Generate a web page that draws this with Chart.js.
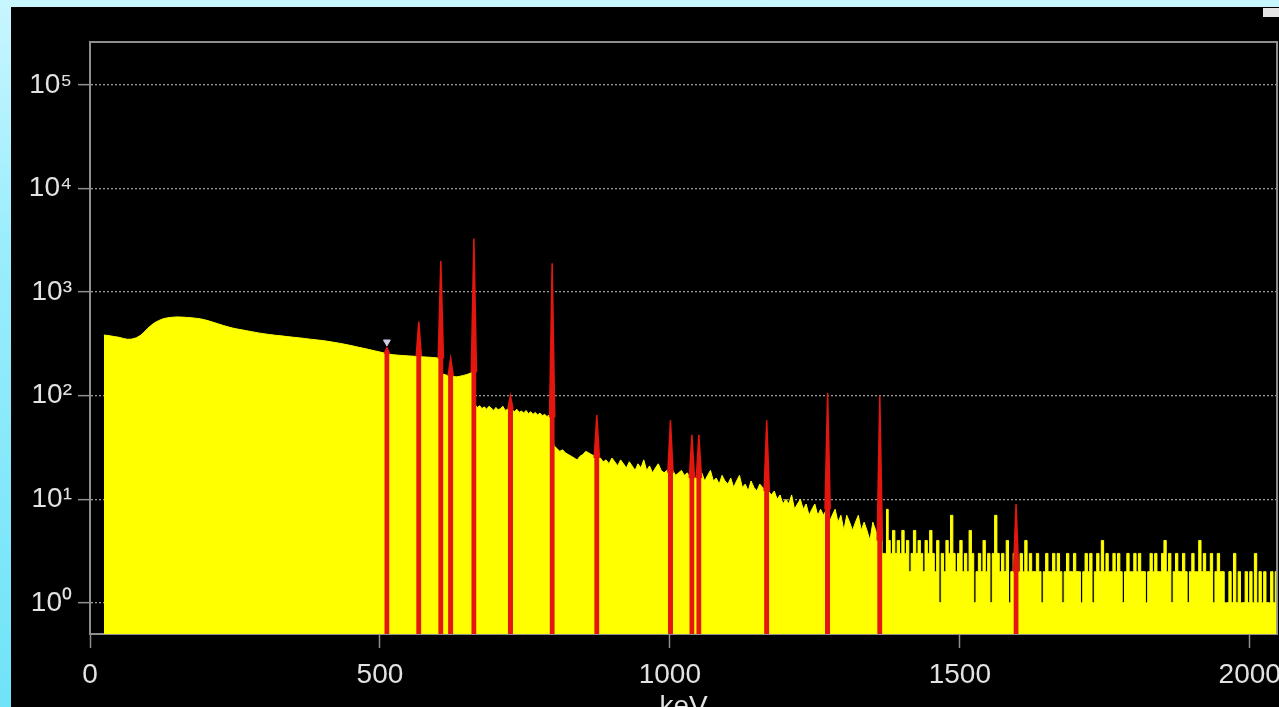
<!DOCTYPE html>
<html><head><meta charset="utf-8">
<script src="https://cdn.jsdelivr.net/npm/chart.js@4"></script>
<style>
html,body{margin:0;padding:0;width:1279px;height:707px;overflow:hidden;}
body{background:linear-gradient(180deg,#c8f6ff 0%,#9aedfc 35%,#70e3f8 100%);position:relative;}
#panel{position:absolute;left:11px;top:7px;width:1268px;height:700px;background:#000;overflow:hidden;}
#c{position:absolute;left:0;top:0;}
#tag{position:absolute;left:1252px;top:1px;width:16px;height:9px;background:#e4e4e4;}
</style></head>
<body><div id="panel"><canvas id="c" width="1300" height="717"></canvas><div id="tag"></div></div>
<script>
// ---- data (energy keV, counts) ----
const lowCounts = [[24,385],[28,383],[35,378],[42,372],[50,366],[58,356],[65,350],[72,352],[80,362],[88,385],[95,420],[102,460],[110,500],[118,530],[126,552],[134,565],[142,572],[150,576],[158,574],[166,570],[174,566],[182,560],[190,552],[198,540],[206,525],[214,508],[222,492],[230,476],[238,462],[246,450],[254,440],[262,432],[270,424],[280,414],[290,404],[300,396],[310,389],[320,383],[330,378],[340,372],[350,367],[360,362],[370,357],[380,351],[390,346],[400,341],[410,335],[420,328],[430,321],[440,313],[450,305],[460,296],[470,288],[480,280],[490,272],[500,264],[508,258],[516,252],[524,248],[532,246],[540,244],[550,242],[560,240],[570,238],[580,236],[590,234],[598,232],[604,230],[608,162],[614,158],[620,156],[626,153],[632,152],[638,154],[644,157],[650,160],[656,165],[660,172]];
const midCounts = [[664,82],[668,77],[672,80],[676,75],[680,78],[684,74],[688,79],[692,76],[696,72],[700,77],[704,73],[708,75],[712,79],[716,72],[720,74],[724,71],[728,73],[732,70],[736,74],[740,69],[744,71],[748,68],[752,72],[756,67],[760,70],[764,66],[768,69],[772,65],[776,68],[780,64],[784,66],[788,63],[792,65],[795,62],[800,33],[805,31],[810,29],[815,30],[820,28],[825,27],[830,26],[835,25],[840,24],[845,26],[850,27],[855,29],[860,28],[865,27],[870,26],[875,24],[880,25],[885,23],[890,24],[895,22],[900,25],[905,23],[910,21],[915,24],[920,22],[925,20],[930,23],[935,21],[940,19],[945,22],[950,20],[955,24],[960,19],[965,21],[970,18],[975,20],[980,22],[985,19],[990,18],[995,19],[1000,18],[1005,19],[1010,17],[1015,18],[1020,19],[1025,17],[1030,18],[1035,16],[1040,17],[1045,16],[1050,17],[1055,18],[1060,15],[1065,17],[1070,19],[1075,15],[1080,16],[1085,14],[1090,17],[1095,15],[1100,14],[1105,16],[1110,13],[1115,15],[1120,17],[1125,13],[1130,14],[1135,12],[1140,15],[1145,13],[1150,12],[1155,14],[1160,13],[1165,12],[1170,12],[1175,11],[1180,12],[1185,10],[1190,11],[1195,9],[1200,10],[1205,9],[1210,11],[1215,8],[1220,9],[1225,10],[1230,8],[1235,9],[1240,7],[1245,8],[1250,9],[1255,7],[1260,8],[1265,7],[1270,8],[1275,6],[1280,7],[1285,8],[1290,6],[1295,7],[1300,5],[1305,7],[1310,6],[1315,5],[1320,6],[1325,7],[1330,5],[1335,6],[1340,5],[1345,4],[1350,6],[1355,5],[1360,4]];
const tailCounts = [[1364,4],[1368,3],[1372,3],[1375,8],[1378,4],[1382,3],[1386,5],[1390,3],[1394,4],[1398,3],[1402,5],[1406,3],[1410,4],[1414,2],[1418,3],[1422,5],[1426,3],[1430,4],[1434,3],[1438,2],[1442,4],[1446,3],[1450,5],[1454,3],[1458,2],[1462,4],[1466,1],[1470,3],[1474,2],[1478,4],[1482,3],[1486,7],[1490,3],[1494,2],[1498,3],[1502,4],[1506,2],[1510,3],[1514,2],[1518,5],[1522,3],[1526,1],[1530,2],[1534,3],[1538,2],[1542,4],[1546,2],[1550,3],[1554,1],[1558,3],[1562,7],[1566,3],[1570,2],[1574,3],[1578,2],[1582,4],[1586,1],[1590,2],[1594,3],[1598,2],[1602,2],[1606,3],[1610,2],[1614,4],[1618,2],[1622,3],[1626,2],[1630,2],[1634,3],[1638,2],[1642,1],[1646,2],[1650,3],[1654,2],[1658,2],[1662,3],[1666,2],[1670,3],[1674,2],[1678,1],[1682,2],[1686,3],[1690,2],[1694,2],[1698,3],[1702,2],[1706,2],[1710,1],[1714,2],[1718,3],[1722,2],[1726,3],[1730,1],[1734,2],[1738,3],[1742,2],[1746,4],[1750,2],[1754,3],[1758,2],[1762,2],[1766,3],[1770,2],[1774,3],[1778,2],[1782,1],[1786,2],[1790,3],[1794,2],[1798,2],[1802,3],[1806,2],[1810,3],[1814,2],[1818,2],[1822,1],[1826,2],[1830,3],[1834,2],[1838,3],[1842,2],[1846,2],[1850,3],[1854,4],[1858,2],[1862,3],[1866,1],[1870,2],[1874,3],[1878,2],[1882,2],[1886,3],[1890,2],[1894,1],[1898,2],[1902,3],[1906,2],[1910,2],[1914,4],[1918,2],[1922,3],[1926,2],[1930,2],[1934,3],[1938,1],[1942,2],[1946,3],[1950,2],[1954,2],[1958,1],[1962,1],[1966,2],[1970,1],[1974,3],[1978,1],[1982,2],[1986,1],[1990,1],[1994,2],[1998,1],[2002,2],[2006,1],[2010,3],[2014,1],[2018,2],[2022,1],[2026,2],[2030,1],[2034,1],[2038,2],[2042,1],[2046,2]];

const peakE    = [512, 567, 605, 622, 662, 725, 797, 874, 1001, 1038, 1050, 1167, 1272, 1362, 1597];
const peakTop  = [290, 520, 2000, 230, 3300, 100, 1900, 65, 58, 42, 42, 58, 106, 100, 9];
const peakBase = [255, 240, 228, 155, 168, 74, 62, 25, 18, 16, 16, 12, 8, 4, 2];

const markerE = [512];
const markerY = [330];

const xTicks = [0, 500, 1000, 1500, 2000];
const yTicks = [1, 10, 100, 1000, 10000, 100000];
const yTickLabels = ['10\u2070', '10\u00b9', '10\u00b2', '10\u00b3', '10\u2074', '10\u2075'];
const xTitle = 'keV';

// ---- styling ----
const PW = 4.5;
const GREY = '#8e8e8e';
const TXT = '#e2e2e2';
const FONT = {family: '"Liberation Sans", Arial, sans-serif', size: 28};

const toXY = arr => arr.map(p => ({x: p[0], y: p[1]}));

const peakSets = peakE.map((e, i) => ({
  data: [{x: e - PW, y: peakBase[i]}, {x: e, y: peakTop[i]}, {x: e + PW, y: peakBase[i]}],
  borderColor: '#e3170f', backgroundColor: '#e3170f', borderWidth: 1.5,
  fill: 'start', pointRadius: 0, tension: 0
}));

const datasets = [
  {data: markerE.map((e, i) => ({x: e, y: markerY[i]})), showLine: false,
   pointStyle: 'triangle', rotation: 180, pointRadius: 4,
   pointBackgroundColor: '#cfc8e4', pointBorderColor: '#cfc8e4'},
  ...peakSets,
  {data: toXY(lowCounts.concat(midCounts)), borderColor: '#ffff00', backgroundColor: '#ffff00',
   borderWidth: 1, fill: 'start', pointRadius: 0, tension: 0},
  {data: toXY(tailCounts), borderColor: '#ffff00', backgroundColor: '#ffff00', stepped: 'middle',
   borderWidth: 1, fill: 'start', pointRadius: 0}
];

const frame = {
  id: 'frame',
  beforeDatasetsDraw(chart) {
    const {ctx, chartArea: a} = chart;
    ctx.save();
    ctx.strokeStyle = GREY; ctx.lineWidth = 2; ctx.setLineDash([]);
    ctx.beginPath(); ctx.moveTo(a.left, a.top); ctx.lineTo(a.right, a.top); ctx.lineTo(a.right, a.bottom);
    ctx.stroke(); ctx.restore();
  }
};

new Chart(document.getElementById('c'), {
  type: 'line',
  data: {datasets},
  plugins: [frame],
  options: {
    responsive: false, animation: false, devicePixelRatio: 1,
    layout: {padding: {left: 0, top: 35, right: 34, bottom: 0}},
    plugins: {legend: {display: false}, tooltip: {enabled: false}},
    scales: {
      x: {
        type: 'linear', min: 0, max: 2047,
        afterBuildTicks: s => { s.ticks = xTicks.map(v => ({value: v})); },
        afterFit: s => { s.height = 90; },
        ticks: {color: TXT, font: FONT, padding: 10, maxRotation: 0, callback: v => String(v)},
        grid: {drawOnChartArea: false, drawTicks: true, tickLength: 14, tickColor: GREY, tickWidth: 1.5, color: GREY},
        border: {display: true, color: GREY, width: 2},
        title: {display: true, text: xTitle, color: TXT, font: FONT, padding: 0}
      },
      y: {
        type: 'logarithmic', min: 0.5, max: 260000,
        afterBuildTicks: s => { s.ticks = yTicks.map(v => ({value: v})); },
        afterFit: s => { s.width = 79; },
        ticks: {color: TXT, font: FONT, padding: 6, callback: (v, i) => yTickLabels[i]},
        grid: {color: 'rgba(170,170,170,0.9)', lineWidth: 1.3, tickBorderDash: [0, 0],
               tickLength: 12, tickColor: GREY, tickWidth: 1.5},
        border: {display: true, color: GREY, width: 2, dash: [2, 2]}
      }
    }
  }
});
</script>
</body></html>
